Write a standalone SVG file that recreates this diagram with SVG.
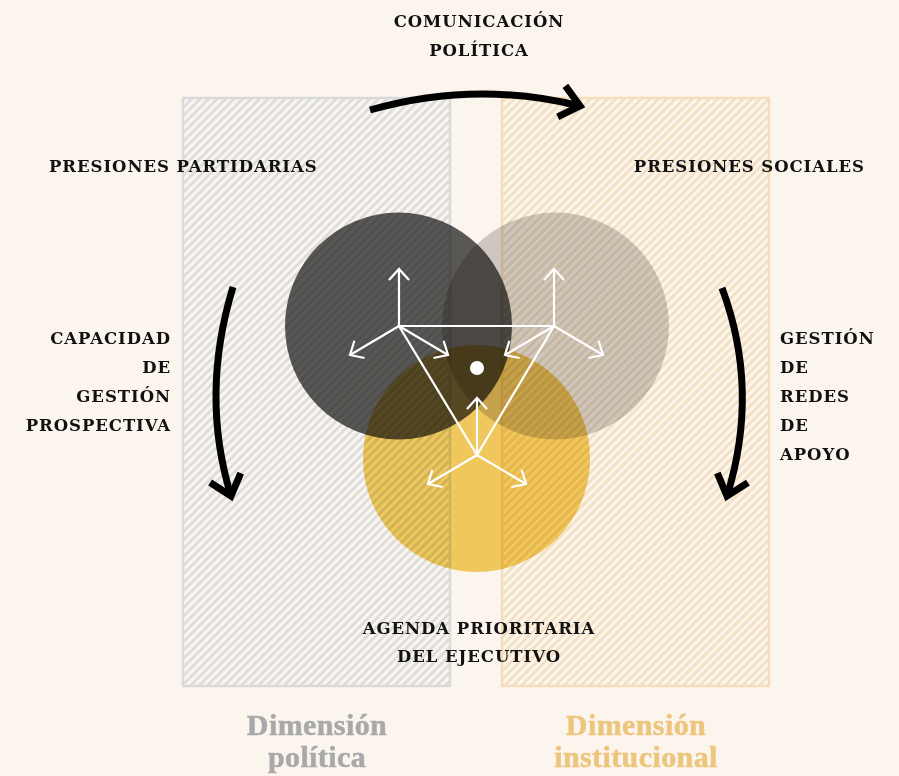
<svg xmlns="http://www.w3.org/2000/svg" width="899" height="776" viewBox="0 0 899 776">
  <defs>
    <pattern id="hatch-gray" width="6" height="6" patternUnits="userSpaceOnUse" patternTransform="rotate(45)">
      <rect width="6" height="6" fill="#fcf5ee"/>
      <line x1="1.5" y1="0" x2="1.5" y2="6" stroke="#d9dbdb" stroke-width="2.6"/>
    </pattern>
    <pattern id="hatch-orange" width="6" height="6" patternUnits="userSpaceOnUse" patternTransform="rotate(45)">
      <rect width="6" height="6" fill="#fcf5ee"/>
      <line x1="1.5" y1="0" x2="1.5" y2="6" stroke="#f3dfbf" stroke-width="2.6"/>
    </pattern>
    <marker id="head-black" markerUnits="userSpaceOnUse" viewBox="-30 -30 40 60" refX="0" refY="0" markerWidth="40" markerHeight="60" orient="auto" overflow="visible">
      <path d="M-19,-16 L0,0 L-19,16" fill="none" stroke="#000" stroke-width="7" stroke-linejoin="miter"/>
    </marker>
    <marker id="head-white" markerUnits="userSpaceOnUse" viewBox="-20 -20 30 40" refX="0" refY="0" markerWidth="30" markerHeight="40" orient="auto" overflow="visible">
      <path d="M-11,-10 L0,0 L-11,10" fill="none" stroke="#fff" stroke-width="2.2"/>
    </marker>
    <style>
      .label { font-family: "DejaVu Serif", "Liberation Serif", serif; font-weight: bold; font-size: 16.5px; letter-spacing: 0.95px; fill: #111; }
      .dim { font-family: "Liberation Serif", "DejaVu Serif", serif; font-weight: bold; font-size: 30px; letter-spacing: 0.4px; text-anchor: middle; stroke-width: 0.5; }
      .circle { mix-blend-mode: multiply; }
      .flow { fill: none; stroke: #000; stroke-width: 7; marker-end: url(#head-black); }
      .spoke { stroke: #fff; stroke-width: 2.2; fill: none; marker-end: url(#head-white); }
      .edge { stroke: #fff; stroke-width: 2.2; fill: none; }
    </style>
  </defs>

  <rect width="899" height="776" fill="#fcf5ee"/>

  <!-- dimension panels -->
  <g id="panel-politica">
    <rect x="183" y="98" width="267" height="588" fill="url(#hatch-gray)" stroke="#d9dbdb" stroke-width="2.5"/>
  </g>
  <g id="panel-institucional">
    <rect x="502" y="98" width="267" height="588" fill="url(#hatch-orange)" stroke="#f3ddba" stroke-width="2.5"/>
  </g>

  <!-- overlapping circles -->
  <g id="circle-yellow">
    <circle class="circle" cx="476.5" cy="458.5" r="113.5" fill="#f2cf63"/>
  </g>
  <g id="circle-gray">
    <circle class="circle" cx="555.5" cy="326" r="113.5" fill="#d1cfcd"/>
  </g>
  <g id="circle-dark">
    <circle class="circle" cx="398.5" cy="326" r="113.5" fill="#5b5b5b"/>
  </g>

  <!-- triangle and spokes -->
  <g id="triangle">
    <path class="edge" d="M399,326 L554,326 L477,455 Z"/>
    <line class="spoke" x1="399" y1="326" x2="399" y2="269"/>
    <line class="spoke" x1="399" y1="326" x2="350" y2="355"/>
    <line class="spoke" x1="399" y1="326" x2="448" y2="355"/>
    <line class="spoke" x1="554" y1="326" x2="554" y2="269"/>
    <line class="spoke" x1="554" y1="326" x2="505" y2="355"/>
    <line class="spoke" x1="554" y1="326" x2="603" y2="355"/>
    <line class="spoke" x1="477" y1="455" x2="477" y2="398"/>
    <line class="spoke" x1="477" y1="455" x2="428" y2="484"/>
    <line class="spoke" x1="477" y1="455" x2="526" y2="484"/>
    <circle cx="477" cy="368" r="7" fill="#fff"/>
  </g>

  <!-- flow arrows -->
  <g id="connectors">
    <path class="flow" d="M370,110 Q475,80 580,106"/>
    <path class="flow" d="M233,287 Q200,395 231,496"/>
    <path class="flow" d="M722,288 Q760,390 727,496"/>
  </g>

  <!-- labels -->
  <g id="label-comunicacion">
    <text class="label" x="479" y="27" text-anchor="middle">COMUNICACIÓN</text>
    <text class="label" x="479" y="56" text-anchor="middle">POLÍTICA</text>
  </g>
  <g id="label-partidarias">
    <text class="label" x="49" y="172">PRESIONES PARTIDARIAS</text>
  </g>
  <g id="label-sociales">
    <text class="label" x="865" y="172" text-anchor="end">PRESIONES SOCIALES</text>
  </g>
  <g id="label-prospectiva">
    <text class="label" x="171" y="344" text-anchor="end">CAPACIDAD</text>
    <text class="label" x="171" y="373" text-anchor="end">DE</text>
    <text class="label" x="171" y="402" text-anchor="end">GESTIÓN</text>
    <text class="label" x="171" y="431" text-anchor="end">PROSPECTIVA</text>
  </g>
  <g id="label-redes">
    <text class="label" x="780" y="344">GESTIÓN</text>
    <text class="label" x="780" y="373">DE</text>
    <text class="label" x="780" y="402">REDES</text>
    <text class="label" x="780" y="431">DE</text>
    <text class="label" x="780" y="460">APOYO</text>
  </g>
  <g id="label-agenda">
    <text class="label" x="479" y="634" text-anchor="middle">AGENDA PRIORITARIA</text>
    <text class="label" x="479" y="662" text-anchor="middle">DEL EJECUTIVO</text>
  </g>
  <g id="label-dim-politica">
    <text class="dim" x="317" y="735" fill="#a8a9ab" stroke="#a8a9ab">Dimensión</text>
    <text class="dim" x="317" y="767" fill="#a8a9ab" stroke="#a8a9ab">política</text>
  </g>
  <g id="label-dim-institucional">
    <text class="dim" x="636" y="735" fill="#edc57d" stroke="#edc57d">Dimensión</text>
    <text class="dim" x="636" y="767" fill="#edc57d" stroke="#edc57d">institucional</text>
  </g>
</svg>
